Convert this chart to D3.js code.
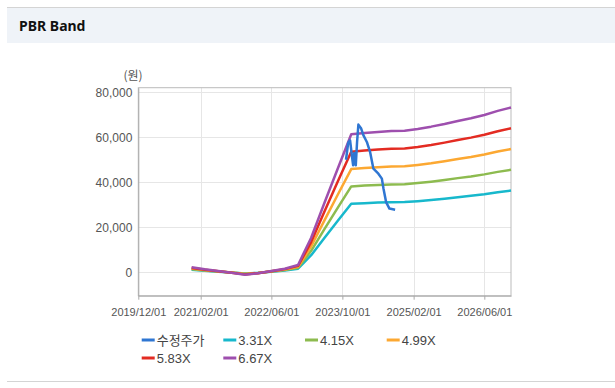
<!DOCTYPE html>
<html>
<head>
<meta charset="utf-8">
<script src="https://cdn.jsdelivr.net/npm/d3@7"></script>
<style>
  body { margin: 0; background: #fff; }
  .axis text { font-family: "Liberation Sans", Arial, sans-serif; fill: #555; }
  .legend text { font-family: "Liberation Sans", "Noto Sans CJK KR", sans-serif; fill: #444; }
</style>
</head>
<body>
<div id="chart"></div>
<script>
// band dates (quarterly) and band values
var bandDates = ["2020-12-01","2021-03-01","2021-06-01","2021-09-01","2021-12-01","2022-03-01","2022-06-01","2022-09-01",
    "2022-12-01","2023-03-01","2023-06-01","2023-09-01","2023-12-01","2024-03-01","2024-06-01","2024-09-01",
    "2024-12-01","2025-03-01","2025-06-01","2025-09-01","2025-12-01","2026-03-01","2026-06-01","2026-09-01","2026-12-01"];
var band331 = [1090,660,290,-90,-530,-220,290,790,1620,7610,15390,23010,30420,30720,30950,31150,31210,31610,32110,32700,33370,33960,34690,35580,36310];
var band415 = [1370,830,360,-110,-660,-270,360,1000,2030,9550,19300,28840,38140,38510,38800,39050,39140,39630,40260,41000,41830,42580,43490,44610,45530];
var band499 = [1650,1000,430,-140,-800,-330,430,1200,2450,11480,23200,34680,45860,46310,46660,46960,47060,47660,48400,49300,50300,51200,52300,53640,54740];
var band583 = [1920,1170,510,-160,-930,-390,510,1400,2860,13410,27110,40520,53580,54100,54510,54860,54980,55680,56550,57600,58770,59820,61100,62670,63960];
var band667 = [2200,1330,580,-180,-1070,-440,580,1600,3270,15340,31020,46360,61300,61900,62370,62770,62900,63700,64700,65900,67230,68430,69900,71700,73170];

// adjusted price (수정주가)
var priceDates = ["2023-10-26","2023-11-10","2023-11-23","2023-12-05","2023-12-14","2023-12-22","2024-01-01","2024-01-10",
    "2024-01-19","2024-02-06","2024-02-22","2024-03-17","2024-04-08","2024-05-01","2024-06-04","2024-06-28",
    "2024-07-09","2024-07-27","2024-08-19","2024-09-27"];
var priceValues = [50000,57500,58600,52000,47500,53000,47500,58000,65600,64000,60900,57900,53500,46000,43800,41600,37200,31200,28300,27800];

var seriesNames = ["수정주가","3.31X","4.15X","4.99X","5.83X","6.67X"];
var colors = ["#2f76d2","#17b8cc","#8dbb4f","#fca832","#e32b22","#9e4fae"];
var xTicks = ["2019-12-01","2021-02-01","2022-06-01","2023-10-01","2025-02-01","2026-06-01"];
var yTicks = [0,20000,40000,60000,80000];

var W = 615, H = 388;
var pLeft = 138.3, pRight = 511, pTop = 87.7, pBottom = 295.7;

var parse = d3.timeParse("%Y-%m-%d");
var fmtX = d3.timeFormat("%Y/%m/%d");

var svg = d3.select("#chart").append("svg")
    .attr("width", W)
    .attr("height", H);

// panel header
svg.append("line").attr("x1", 7).attr("x2", W).attr("y1", 7.5).attr("y2", 7.5)
    .attr("stroke", "#d4d4d4");
svg.append("rect").attr("x", 7).attr("y", 8).attr("width", W - 7).attr("height", 35)
    .attr("fill", "#eff3f8");
svg.append("text").attr("x", 19).attr("y", 31)
    .style("font-family", "'Noto Sans', sans-serif")
    .style("font-weight", "bold")
    .style("font-size", "14px")
    .attr("fill", "#111")
    .text("PBR Band");
svg.append("line").attr("x1", 7).attr("x2", W).attr("y1", 381.5).attr("y2", 381.5)
    .attr("stroke", "#d4d4d4");

var x = d3.scaleTime()
    .domain([parse("2019-12-01"), parse("2026-12-01")])
    .range([pLeft, pRight]);
var y = d3.scaleLinear()
    .domain([-10400, 82000])
    .range([pBottom, pTop]);

// grid
svg.append("g").selectAll("line").data(yTicks).enter().append("line")
    .attr("x1", pLeft).attr("x2", pRight)
    .attr("y1", function(d) { return Math.round(y(d)) + 0.5; })
    .attr("y2", function(d) { return Math.round(y(d)) + 0.5; })
    .attr("stroke", "#e6e6e6");
svg.append("g").selectAll("line").data(xTicks.slice(1)).enter().append("line")
    .attr("x1", function(d) { return Math.round(x(parse(d))) + 0.5; })
    .attr("x2", function(d) { return Math.round(x(parse(d))) + 0.5; })
    .attr("y1", pTop).attr("y2", pBottom)
    .attr("stroke", "#e6e6e6");

// frame
svg.append("rect")
    .attr("x", pLeft).attr("y", pTop)
    .attr("width", pRight - pLeft).attr("height", pBottom - pTop)
    .attr("fill", "none").attr("stroke", "#bbb");

// axes
var xAxis = svg.append("g").attr("class", "axis")
    .attr("transform", "translate(0," + pBottom + ")")
    .call(d3.axisBottom(x).tickValues(xTicks.map(parse)).tickFormat(fmtX).tickSize(4).tickSizeOuter(0));
xAxis.select(".domain").attr("stroke", "#aaa");
xAxis.selectAll(".tick line").attr("stroke", "#aaa");
xAxis.selectAll("text").style("font-size", "11px").attr("dy", "1.25em");

var yAxis = svg.append("g").attr("class", "axis")
    .attr("transform", "translate(" + pLeft + ",0)")
    .call(d3.axisLeft(y).tickValues(yTicks).tickFormat(d3.format(",")).tickSize(0));
yAxis.select(".domain").attr("stroke", "#aaa");
yAxis.selectAll("text").style("font-size", "12px").attr("x", -6);

svg.append("text").attr("x", 133).attr("y", 80)
    .attr("text-anchor", "middle")
    .style("font-family", "'Noto Sans CJK KR', sans-serif")
    .style("font-size", "12px")
    .attr("fill", "#555")
    .text("(원)");

// lines
var line = d3.line()
    .x(function(d) { return x(d[0]); })
    .y(function(d) { return y(d[1]); });

var bands = [band331, band415, band499, band583, band667];
var plot = svg.append("g");
bands.forEach(function(b, i) {
    plot.append("path")
        .datum(bandDates.map(function(d, j) { return [parse(d), b[j]]; }))
        .attr("d", line)
        .attr("fill", "none")
        .attr("stroke", colors[i + 1])
        .attr("stroke-width", 2.5)
        .attr("stroke-linejoin", "round");
});
plot.append("path")
    .datum(priceDates.map(function(d, j) { return [parse(d), priceValues[j]]; }))
    .attr("d", line)
    .attr("fill", "none")
    .attr("stroke", colors[0])
    .attr("stroke-width", 2.5)
    .attr("stroke-linejoin", "round");

// legend
var legendPos = [[141.7,340],[223.3,340],[305,340],[386.7,340],[141.7,358],[223.3,358]];
var legend = svg.append("g").attr("class", "legend").selectAll("g")
    .data(seriesNames).enter().append("g")
    .attr("transform", function(d, i) { return "translate(" + legendPos[i][0] + "," + legendPos[i][1] + ")"; });
legend.append("line")
    .attr("x1", 0).attr("x2", 13).attr("y1", 0).attr("y2", 0)
    .attr("stroke", function(d, i) { return colors[i]; })
    .attr("stroke-width", 3);
legend.append("text")
    .attr("x", 15).attr("y", 0).attr("dy", "0.36em")
    .style("font-size", "13px")
    .text(function(d) { return d; });
</script>
</body>
</html>
